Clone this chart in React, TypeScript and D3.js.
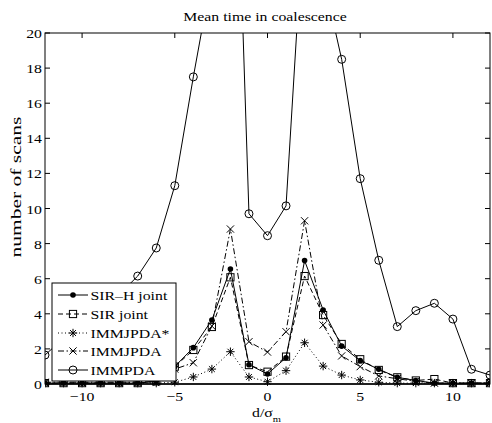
import React from "react";
import * as d3 from "d3";

const xs = [-12, -11, -10, -9, -8, -7, -6, -5, -4, -3, -2, -1, 0, 1, 2, 3, 4, 5, 6, 7, 8, 9, 10, 11, 12];
const sirH = [0.05, 0.05, 0.05, 0.05, 0.05, 0.05, 0.15, 1.0, 2.07, 3.65, 6.55, 1.1, 0.57, 1.5, 7.03, 4.22, 2.16, 1.33, 0.84, 0.38, 0.2, 0.05, 0.05, 0.05, 0.05];
const sir = [0.05, 0.05, 0.05, 0.05, 0.05, 0.05, 0.15, 0.99, 1.94, 3.25, 6.08, 1.08, 0.7, 1.56, 6.15, 3.93, 2.28, 1.41, 0.8, 0.38, 0.2, 0.28, 0.05, 0.05, 0.05];
const immjpdaStar = [0.05, 0.05, 0.05, 0.05, 0.05, 0.05, 0.05, 0.1, 0.4, 0.85, 1.84, 0.4, 0.13, 0.76, 2.35, 1.02, 0.51, 0.23, 0.1, 0.05, 0.05, 0.05, 0.05, 0.05, 0.05];
const immjpda = [0.1, 0.1, 0.1, 0.1, 0.1, 0.1, 0.15, 0.85, 1.21, 3.3, 8.83, 2.41, 1.82, 2.98, 9.3, 3.36, 1.6, 0.99, 0.46, 0.3, 0.15, 0.05, 0.05, 0.05, 0.05];
const immpda = [1.65, 2.6, 3.4, 4.2, 5.1, 6.15, 7.75, 11.3, 17.5, 23.3, 42, 9.7, 8.45, 10.15, 27.4, 23.2, 18.5, 11.7, 7.05, 3.27, 4.18, 4.6, 3.7, 0.84, 0.51];

const xTicks = [-10, -5, 0, 5, 10];
const yTicks = [0, 2, 4, 6, 8, 10, 12, 14, 16, 18, 20];
const seriesNames = ["SIR\u2013H joint", "SIR joint", "IMMJPDA*", "IMMJPDA", "IMMPDA"];

const W = 492, H = 423;
const L = 45, R = 490, T = 33, B = 384;
const FONT = "'Liberation Serif', 'Times New Roman', serif";
const SX = 1.17;
const FS = 13.5;

type MarkerType = "dot" | "square" | "star" | "x" | "circle";

function Txt({ x, y, anchor = "start", size = FS, children }: { x: number; y: number; anchor?: string; size?: number; children: React.ReactNode }) {
  return (
    <text transform={`translate(${x},${y}) scale(${SX},1)`} textAnchor={anchor} fontSize={size} fill="#000">
      {children}
    </text>
  );
}

function Marker({ type, x, y }: { type: MarkerType; x: number; y: number }) {
  const s = 3.6;
  if (type === "dot") return <circle cx={x} cy={y} r={2.8} fill="#000" />;
  if (type === "square")
    return <rect x={x - s} y={y - s} width={2 * s} height={2 * s} fill="none" stroke="#000" strokeWidth={1} />;
  if (type === "circle") return <circle cx={x} cy={y} r={4} fill="none" stroke="#000" strokeWidth={1} />;
  if (type === "x")
    return (
      <path d={`M${x - s},${y - s}L${x + s},${y + s}M${x - s},${y + s}L${x + s},${y - s}`} stroke="#000" strokeWidth={1} />
    );
  const a = 4.2, b = a * 0.7;
  return (
    <path
      d={`M${x},${y - a}L${x},${y + a}M${x - a},${y}L${x + a},${y}M${x - b},${y - b}L${x + b},${y + b}M${x - b},${y + b}L${x + b},${y - b}`}
      stroke="#000"
      strokeWidth={1}
    />
  );
}

export default function App() {
  const x = d3.scaleLinear().domain([-12, 12]).range([L, R]);
  const y = d3.scaleLinear().domain([0, 20]).range([B, T]);
  const series: { vals: number[]; marker: MarkerType; dash: string }[] = [
    { vals: sirH, marker: "dot", dash: "" },
    { vals: sir, marker: "square", dash: "5,3" },
    { vals: immjpdaStar, marker: "star", dash: "1,2.5" },
    { vals: immjpda, marker: "x", dash: "6,2.5,1.5,2.5" },
    { vals: immpda, marker: "circle", dash: "" },
  ];
  const line = d3
    .line<number>()
    .x((_, i) => x(xs[i]))
    .y((d) => y(d));

  const legX = 52, legY = 283, legW = 124, legH = 98;
  const rowY = [295, 314, 333, 351, 370];

  return (
    <svg width={W} height={H} style={{ position: "absolute", left: 0, top: 0 }} fontFamily={FONT}>
      <rect x={0} y={0} width={W} height={H} fill="#fff" />
      <defs>
        <clipPath id="plotclip">
          <rect x={L} y={T} width={R - L} height={B - T + 6} />
        </clipPath>
      </defs>
      <Txt x={265} y={20.5} anchor="middle">
        Mean time in coalescence
      </Txt>
      <g clipPath="url(#plotclip)">
        {series.map((s, k) => (
          <g key={k}>
            <path d={line(s.vals) || ""} fill="none" stroke="#000" strokeWidth={1} strokeDasharray={s.dash} />
            {s.vals.map((v, i) => (v <= 21 ? <Marker key={i} type={s.marker} x={x(xs[i])} y={y(v)} /> : null))}
          </g>
        ))}
      </g>
      <rect x={L} y={T} width={R - L} height={B - T} fill="none" stroke="#000" strokeWidth={1} />
      <line x1={L} x2={R} y1={B} y2={B} stroke="#000" strokeWidth={1.5} />
      {xTicks.map((t) => (
        <g key={t}>
          <line x1={x(t)} x2={x(t)} y1={B} y2={B - 5} stroke="#000" />
          <line x1={x(t)} x2={x(t)} y1={T} y2={T + 5} stroke="#000" />
          <Txt x={x(t)} y={B + 17} anchor="middle">
            {t < 0 ? "\u2212" + Math.abs(t) : String(t)}
          </Txt>
        </g>
      ))}
      {yTicks.map((t) => (
        <g key={t}>
          <line x1={L} x2={L + 5} y1={y(t)} y2={y(t)} stroke="#000" />
          <line x1={R} x2={R - 5} y1={y(t)} y2={y(t)} stroke="#000" />
          <Txt x={L - 3} y={y(t) + 5} anchor="end">
            {String(t)}
          </Txt>
        </g>
      ))}
      <text transform={`translate(21,187) rotate(-90) scale(1,0.72)`} textAnchor="middle" fontSize={21.5} fill="#000">
        number of scans
      </text>
      <Txt x={252} y={417}>
        d/σ
        <tspan fontSize={9} dy={5}>m</tspan>
      </Txt>
      <rect x={legX} y={legY} width={legW} height={legH} fill="#fff" stroke="#000" strokeWidth={1} />
      {series.map((s, k) => (
        <g key={k}>
          <line x1={legX + 6} x2={legX + 36} y1={rowY[k]} y2={rowY[k]} stroke="#000" strokeWidth={1} strokeDasharray={s.dash} />
          <Marker type={s.marker} x={legX + 21} y={rowY[k]} />
          <Txt x={legX + 38.5} y={rowY[k] + 5}>
            {seriesNames[k]}
          </Txt>
        </g>
      ))}
    </svg>
  );
}
